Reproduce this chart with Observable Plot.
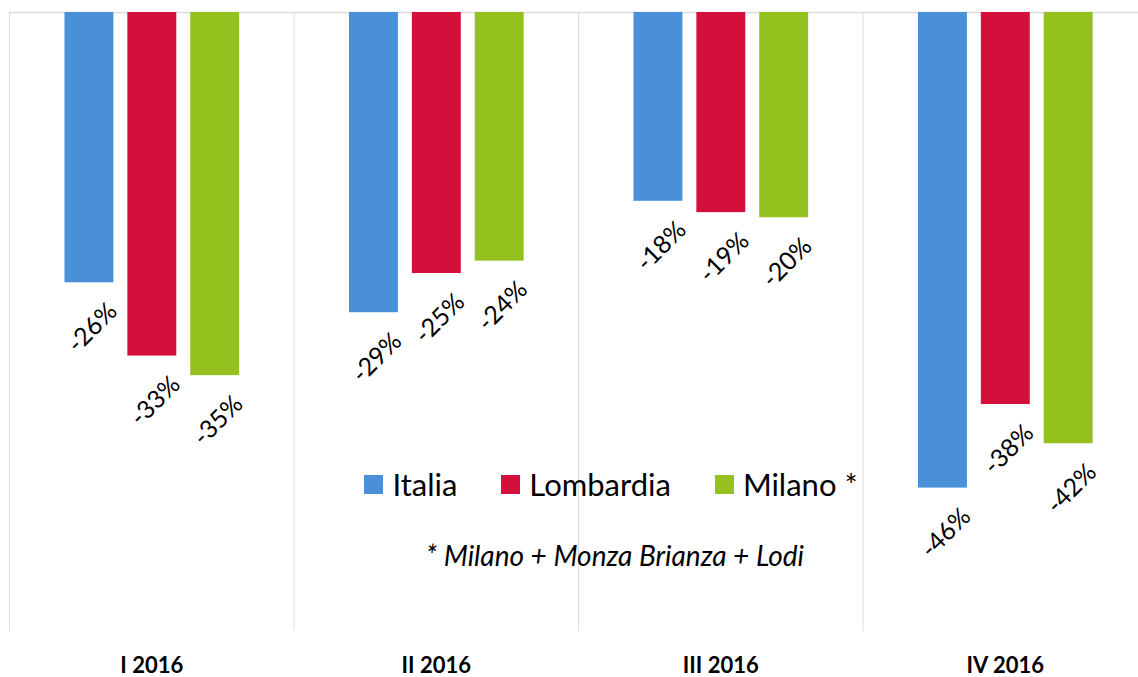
<!DOCTYPE html>
<html>
<head>
<meta charset="utf-8">
<script src="https://cdn.jsdelivr.net/npm/d3@7"></script>
<script src="https://cdn.jsdelivr.net/npm/@observablehq/plot@0.6"></script>
<style>
  html, body { margin: 0; padding: 0; background: #fff; }
  #wrap { position: relative; width: 1138px; height: 677px; font-family: Lato, "Open Sans", sans-serif; }
  #wrap svg { display: block; }
  #legend { position: absolute; left: 0; width: 1222px; top: 465px; display: flex; justify-content: center; align-items: center; font-size: 31px; color: #000; }
  .item { display: flex; align-items: center; margin: 0 22px; }
  .sw { width: 19px; height: 19px; margin-right: 9px; }
  #note { position: absolute; left: 0; width: 1230px; top: 538px; text-align: center; font-style: italic; font-size: 28px; color: #000; }
</style>
</head>
<body>
<div id="wrap"></div>
<script>
const quarters = ["I 2016", "II 2016", "III 2016", "IV 2016"];
const series = ["Italia", "Lombardia", "Milano *"];
const italia = [-26.2, -29.1, -18.3, -46.1];
const lombardia = [-33.3, -25.3, -19.4, -38.0];
const milano = [-35.2, -24.1, -19.9, -41.8];
const colors = ["#4a90d9", "#d50f3c", "#95c11f"];
const footnote = "* Milano + Monza Brianza + Lodi";

const values = [italia, lombardia, milano];
const start = 0.195, step = 0.221, barW = 0.172;
const rows = [];
quarters.forEach((q, i) => {
  series.forEach((s, j) => {
    const x1 = i + start + j * step;
    rows.push({q, s, v: values[j][i], x1, x2: x1 + barW});
  });
});

const chart = Plot.plot({
  width: 1138,
  height: 677,
  marginTop: 12,
  marginBottom: 46,
  marginLeft: 9,
  marginRight: 0,
  style: {fontFamily: "Lato, 'Open Sans', sans-serif", background: "#fff"},
  x: {domain: [0, 4], range: [9, 1147], axis: null},
  y: {domain: [-60, 0], range: [631, 12], axis: null},
  color: {domain: series, range: colors},
  marks: [
    Plot.ruleX(d3.range(quarters.length + 1), {x: d => d, stroke: "#dcdcdc", strokeWidth: 1}),
    Plot.ruleY([0], {stroke: "#dcdcdc", strokeWidth: 1.5}),
    Plot.rect(rows, {x1: "x1", x2: "x2", y1: () => 0, y2: "v", fill: "s"}),
    Plot.text(rows, {x: d => (d.x1 + d.x2) / 2, y: "v", text: d => Math.round(d.v) + "%", rotate: -45, dy: 45, dx: 3, fontSize: 25, fill: "#000"}),
    Plot.text(quarters, {x: (d, i) => i + 0.5, text: d => d, frameAnchor: "bottom", lineAnchor: "middle", dy: 34, fontSize: 22, fontWeight: "bold", fill: "#000"})
  ]
});

const wrap = document.getElementById("wrap");
wrap.appendChild(chart);

const legend = document.createElement("div");
legend.id = "legend";
series.forEach((s, j) => {
  const it = document.createElement("div");
  it.className = "item";
  const sw = document.createElement("span");
  sw.className = "sw";
  sw.style.background = colors[j];
  const t = document.createElement("span");
  t.textContent = s;
  it.appendChild(sw);
  it.appendChild(t);
  legend.appendChild(it);
});
wrap.appendChild(legend);

const note = document.createElement("div");
note.id = "note";
note.textContent = footnote;
wrap.appendChild(note);
</script>
</body>
</html>
